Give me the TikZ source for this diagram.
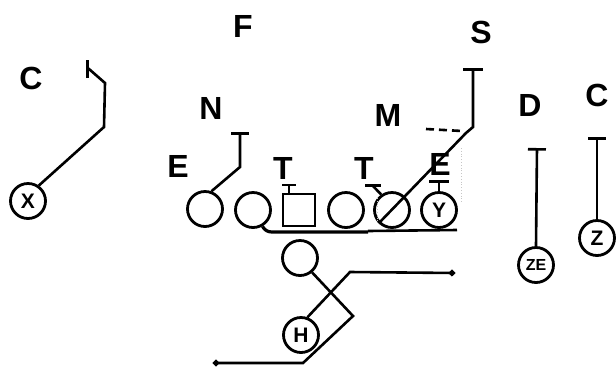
\documentclass[tikz,border=0pt]{standalone}
\usepackage{fontspec}
\setmainfont{Liberation Sans}
\usetikzlibrary{arrows.meta,positioning}
\tikzset{
  jogador/.style={circle, draw, line width=2.8pt, minimum size=35pt, inner sep=0pt,
                  font=\fontsize{21}{22}\selectfont\bfseries},
  centro/.style={rectangle, draw, line width=2.8pt, minimum size=32pt, inner sep=0pt},
  defesa/.style={font=\fontsize{32}{34}\selectfont\bfseries, inner sep=0pt},
  rota/.style={line width=2.6pt, line join=miter},
  bloqueio/.style={rota, -{Bar[width=18pt]}},
  corrida/.style={rota, -{Circle[length=6pt]}},
  sujeira/.style={gray!45, line width=0.8pt, dotted},
}

\begin{document}
\begin{tikzpicture}[x=1pt, y=-1pt]
  \useasboundingbox (0,0) rectangle (616,368);

  % --- Linha ofensiva ---------------------------------------------------------
  \node[jogador] (le) at (205,209) {};
  \node[jogador] (lg) at (253,210) {};
  \node[centro]  (ce) at (299,210) {};
  \node[jogador] (rg) at (346,210) {};
  \node[jogador] (rt) at (392,210) {};
  \node[jogador] (y)  at (439,210) {Y};

  % --- Recebedores e backfield ------------------------------------------------
  \node[jogador] (x)  at (28,201)  {X};
  \node[jogador] (ze) at (536,265) {\fontsize{16}{17}\selectfont ZE};
  \node[jogador] (z)  at (597,238) {Z};
  \node[jogador] (qb) at (300,258) {};
  \node[jogador] (h)  at (301,335) {H};

  % --- Defesa -----------------------------------------------------------------
  \node[defesa] (cesq) at (31,78)   {C};
  \node[defesa] (f)    at (243,26)  {F};
  \node[defesa] (s)    at (481,32)  {S};
  \node[defesa] (n)    at (211,108) {N};
  \node[defesa] (m)    at (388,115) {M};
  \node[defesa] (d)    at (530,105) {D};
  \node[defesa] (cdir) at (597,95)  {C};
  \node[defesa] (eesq) at (178,166) {E};
  \node[defesa] (t1)   at (283,168) {T};
  \node[defesa] (t2)   at (364,168) {T};
  \node[defesa] (edir) at (440,164) {E};

  % --- Bloqueios --------------------------------------------------------------
  \draw[bloqueio] (x.55) -- (104,127) -- (105,83) -- (89,69) -- (86,69);
  \draw[bloqueio] (le.70) -- (240,167) -- (240,132);
  \draw[bloqueio, -{Bar[width=14pt]}] ([xshift=-10pt]ce.north) -- ++(0,-9);
  \draw[bloqueio, -{Bar[width=16pt]}] (rt.125) -- (373,186) -- (373,184);
  \draw[bloqueio, -{Bar[width=20pt]}] (rt.225) -- (466,133) -- (473,127) -- (473,68);
  \draw[bloqueio, -{Bar[width=20pt]}] (y.north) -- (439,180);
  \draw[bloqueio] (ze.north) -- (537,148);
  \draw[bloqueio] (z.north) -- (597,137);
  \draw[rota, dash pattern=on 8pt off 5pt] (426,129) -- (462,131);

  % linha sob a linha ofensiva
  \coordinate (linhafim) at (457,230);
  \draw[rota, line width=3.2pt] (lg.-60) to[out=-60,in=180] (272,232) -- (368,232);
  \draw[rota] (368,231) -- (linhafim);

  % --- Rotas do backfield -----------------------------------------------------
  \draw[corrida] (qb.-50) -- (353,316) -- (303,363) -- (213,363);
  \draw[corrida] (h.70) -- (350,272) -- (455,273);

  % marcas apagadas
  \draw[sujeira] (461,148) -- (461,202);
  \draw[sujeira] (377,198) -- (377,222);

\end{tikzpicture}
\end{document}
